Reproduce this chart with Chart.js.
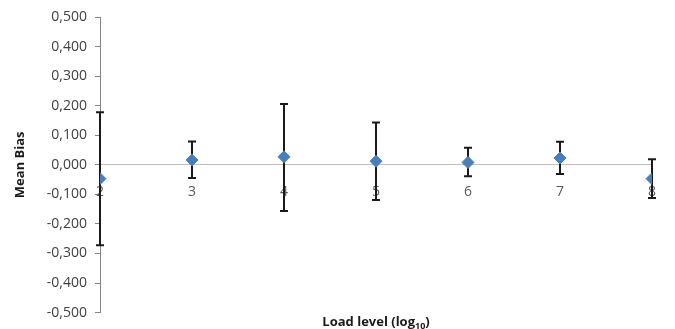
<!DOCTYPE html>
<html>
<head>
<meta charset="utf-8">
<script src="https://cdn.jsdelivr.net/npm/chart.js@4.4.1/dist/chart.umd.min.js"></script>
<style>
  html, body { margin: 0; padding: 0; background: #fff; }
  #wrap { width: 675px; height: 329px; position: relative; }
</style>
</head>
<body>
<div id="wrap"><canvas id="chart"></canvas></div>
<script>
// load levels (log10) and mean bias with error bar ends
const loadLevels = [2, 3, 4, 5, 6, 7, 8];
const meanBias   = [-0.047, 0.016, 0.027, 0.012, 0.008, 0.023, -0.047];
const biasHigh   = [0.178, 0.079, 0.206, 0.143, 0.058, 0.078, 0.019];
const biasLow    = [-0.272, -0.045, -0.156, -0.119, -0.039, -0.031, -0.112];
const yTicks = { min: -0.5, max: 0.5, step: 0.1 };

const FONT = "'Open Sans', 'Liberation Sans', sans-serif";

// error bars drawn through the chart scales, under the markers
const errorBars = {
  id: 'errorBars',
  beforeDatasetsDraw(chart) {
    const { ctx, scales: { x, y } } = chart;
    ctx.save();
    ctx.strokeStyle = '#1a1a1a';
    ctx.lineWidth = 2;
    const cap = 4;
    loadLevels.forEach((lv, i) => {
      const px = x.getPixelForValue(lv);
      const top = y.getPixelForValue(biasHigh[i]);
      const bot = y.getPixelForValue(biasLow[i]);
      ctx.beginPath();
      ctx.moveTo(px, top); ctx.lineTo(px, bot);
      ctx.moveTo(px - cap, top); ctx.lineTo(px + cap, top);
      ctx.moveTo(px - cap, bot); ctx.lineTo(px + cap, bot);
      ctx.stroke();
    });
    ctx.restore();
  }
};

// x axis title with subscript, below the plot (axis itself sits at y = 0)
const xTitle = {
  id: 'xTitle',
  afterDraw(chart) {
    const { ctx, chartArea } = chart;
    ctx.save();
    ctx.fillStyle = '#1a1a1a';
    ctx.textBaseline = 'alphabetic';
    const main = 'Load level (log';
    const sub = '10';
    ctx.font = 'bold 13px ' + FONT;
    const wMain = ctx.measureText(main).width;
    const wClose = ctx.measureText(')').width;
    ctx.font = 'bold 9px ' + FONT;
    const wSub = ctx.measureText(sub).width;
    const total = wMain + wSub + wClose;
    let x0 = (chartArea.left + chartArea.right) / 2 - total / 2;
    const base = 326;
    ctx.font = 'bold 13px ' + FONT;
    ctx.fillText(main, x0, base);
    ctx.font = 'bold 9px ' + FONT;
    ctx.fillText(sub, x0 + wMain, base + 3);
    ctx.font = 'bold 13px ' + FONT;
    ctx.fillText(')', x0 + wMain + wSub, base);
    ctx.restore();
  }
};

new Chart(document.getElementById('chart'), {
  type: 'scatter',
  data: {
    datasets: [{
      label: 'Mean Bias',
      data: loadLevels.map((lv, i) => ({ x: lv, y: meanBias[i] })),
      pointStyle: 'rectRot',
      pointRadius: 6,
      pointHoverRadius: 6,
      backgroundColor: '#4a7ebb',
      borderColor: '#4a7ebb',
      borderWidth: 1
    }]
  },
  options: {
    responsive: true,
    maintainAspectRatio: false,
    animation: false,
    layout: { padding: { top: 17, bottom: 9, left: 0, right: 23 } },
    plugins: {
      legend: { display: false },
      tooltip: { enabled: false }
    },
    scales: {
      x: {
        type: 'linear',
        position: { y: 0 },
        min: 2,
        max: 8,
        grid: { display: false, drawTicks: false },
        border: { display: true, color: '#bfbfbf', width: 1 },
        ticks: {
          stepSize: 1,
          padding: 19,
          color: '#595959',
          font: { family: FONT, size: 14 }
        }
      },
      y: {
        min: yTicks.min,
        max: yTicks.max,
        afterFit(scale) { scale.width = 100; },
        grid: { drawOnChartArea: false, drawTicks: true, tickLength: 5, color: '#868686' },
        border: { display: true, color: '#868686', width: 1 },
        ticks: {
          stepSize: yTicks.step,
          padding: 8,
          color: '#404040',
          font: { family: FONT, size: 14 },
          callback: v => v.toFixed(3).replace('.', ',')
        },
        title: {
          display: true,
          text: 'Mean Bias',
          color: '#1a1a1a',
          font: { family: FONT, size: 13, weight: 'bold' },
          padding: { top: 12, bottom: 0 }
        }
      }
    }
  },
  plugins: [errorBars, xTitle]
});
</script>
</body>
</html>
